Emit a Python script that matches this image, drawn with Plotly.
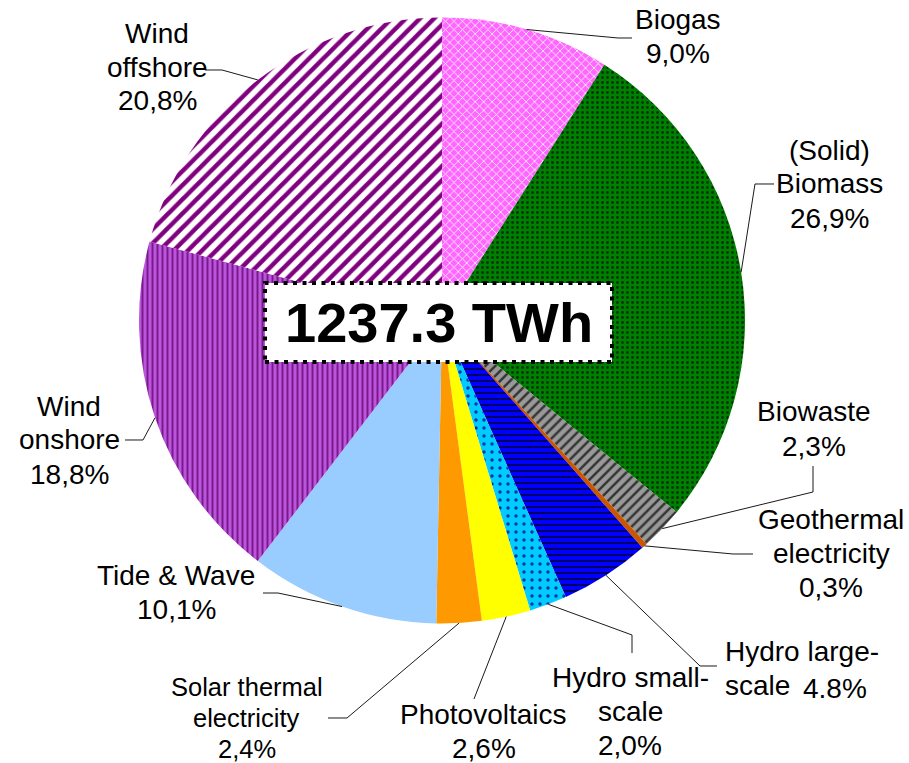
import math
import plotly.graph_objects as go

# Renewable electricity mix, shares of total generation (%)
sources = ["Biogas", "(Solid) Biomass", "Biowaste", "Geothermal electricity",
           "Hydro large-scale", "Hydro small-scale", "Photovoltaics",
           "Solar thermal electricity", "Tide & Wave", "Wind onshore", "Wind offshore"]
shares = [9.0, 26.9, 2.3, 0.3, 4.8, 2.0, 2.6, 2.4, 10.1, 18.8, 20.8]
share_text = ["9,0%", "26,9%", "2,3%", "0,3%", "4.8%", "2,0%", "2,6%", "2,4%",
              "10,1%", "18,8%", "20,8%"]
total_twh = 1237.3

# Slice styling
base_colors = ["#ff66ff", "#008000", "#999999", "#cc5500", "#0000ff", "#00ccff",
               "#ffff00", "#ff9900", "#99ccff", "#bb55dd", "#ffffff"]
pat_shape = ["x", ".", "/", "", "-", ".", "", "", "", "|", "/"]
pat_fg = ["#ffffff", "#003300", "#333333", "#cc5500", "#000000", "#0033aa",
          "#ffff00", "#ff9900", "#99ccff", "#7a1a8a", "#800080"]
pat_size = [6, 5, 7, 8, 6, 8, 8, 8, 8, 5, 10]
pat_solid = [0.25, 0.25, 0.35, 0.3, 0.2, 0.15, 0.3, 0.3, 0.3, 0.4, 0.45]

W, H = 909, 763
CX, CY, R = 442, 320.5, 303  # pie centre and radius in pixels


def px(x):
    return x / W


def py(y):
    return 1 - y / H


fig = go.Figure(go.Pie(
    labels=sources,
    values=shares,
    sort=False,
    direction="clockwise",
    rotation=0,
    textinfo="none",
    hoverinfo="label+percent",
    marker=dict(
        colors=base_colors,
        line=dict(width=0),
        pattern=dict(shape=pat_shape, fgcolor=pat_fg, bgcolor=base_colors,
                     size=pat_size, solidity=pat_solid, fillmode="replace"),
    ),
    domain=dict(x=[px(CX - R), px(CX + R)], y=[py(CY + R), py(CY - R)]),
))

# Label blocks: (lines, centre x, centre y, font size, line spacing)
label_pos = [
    (["Biogas", share_text[0]], 678, 36, 28, 34),
    (["(Solid)", "Biomass", share_text[1]], 829, 184, 28, 34),
    (["Biowaste", share_text[2]], 814, 429, 28, 34),
    (["Geothermal", "electricity", share_text[3]], 831, 553, 28, 34),
    (None, 0, 0, 28, 34),
    (["Hydro small-", "scale", share_text[5]], 630, 711, 28, 34),
    (["Photovoltaics", share_text[6]], 484, 731, 28, 34),
    (["Solar thermal", "electricity", share_text[7]], 247, 718, 25.5, 31),
    (["Tide & Wave", share_text[8]], 176, 592, 28, 34),
    (["Wind", "onshore", share_text[9]], 69, 440, 28, 34),
    (["Wind", "offshore", share_text[10]], 157, 67, 28, 34),
]

# Elbow points of the leader lines, from the label side toward the pie
elbows = [
    [(632, 38), (618, 38)],
    [(774, 184), (755, 184)],
    [(813, 466), (813, 492)],
    [(753, 554), (733, 554)],
    [(717, 666), (700, 666)],
    [(632, 653), (632, 635)],
    [(474, 699)],
    [(328, 718), (347, 718)],
    [(263, 593), (278, 593)],
    [(125, 440), (143, 440)],
    [(205, 70), (222, 70)],
]

font_family = "Liberation Sans, Arial, sans-serif"
annotations = []
shapes = []


def text_line(text, x, y, size, anchor="center"):
    annotations.append(dict(
        text=text, x=px(x), y=py(y), xref="paper", yref="paper",
        xanchor=anchor, yanchor="middle", showarrow=False,
        font=dict(family=font_family, size=size, color="#000000"),
    ))


total = sum(shares)
cum = 0.0
for i, v in enumerate(shares):
    theta = 2 * math.pi * (cum + v / 2) / total
    cum += v
    ex = CX + R * math.sin(theta)
    ey = CY - R * math.cos(theta)
    pts = elbows[i] + [(ex, ey)]
    path = "M " + " L ".join(f"{px(x):.5f},{py(y):.5f}" for x, y in pts)
    shapes.append(dict(type="path", path=path, xref="paper", yref="paper",
                       line=dict(color="#1a1a1a", width=1)))

    lines, lx, ly, fs, gap = label_pos[i]
    if lines is None:
        continue
    n = len(lines)
    for k, line in enumerate(lines):
        text_line(line, lx, ly + (k - (n - 1) / 2) * gap, fs)

# Hydro large-scale label, split over a left-aligned name and the share
text_line("Hydro large-", 723, 651, 28, "left")
text_line("scale", 723, 685, 28, "left")
text_line(share_text[4], 835, 688, 28)

# Total generation box in the middle
shapes.append(dict(type="rect", xref="paper", yref="paper",
                   x0=px(265), x1=px(612), y0=py(362), y1=py(283),
                   fillcolor="#ffffff", line=dict(color="#000000", width=4, dash="4px,5.5px")))
annotations.append(dict(
    text=f"<b>{total_twh:.1f} TWh</b>", x=px(438.5), y=py(322.5), xref="paper",
    yref="paper", xanchor="center", yanchor="middle", showarrow=False,
    font=dict(family=font_family, size=56, color="#000000"),
))

fig.update_layout(
    width=W, height=H,
    margin=dict(l=0, r=0, t=0, b=0),
    paper_bgcolor="#ffffff", plot_bgcolor="#ffffff",
    showlegend=False,
    shapes=shapes,
    annotations=annotations,
)

fig.write_html("out.html")
